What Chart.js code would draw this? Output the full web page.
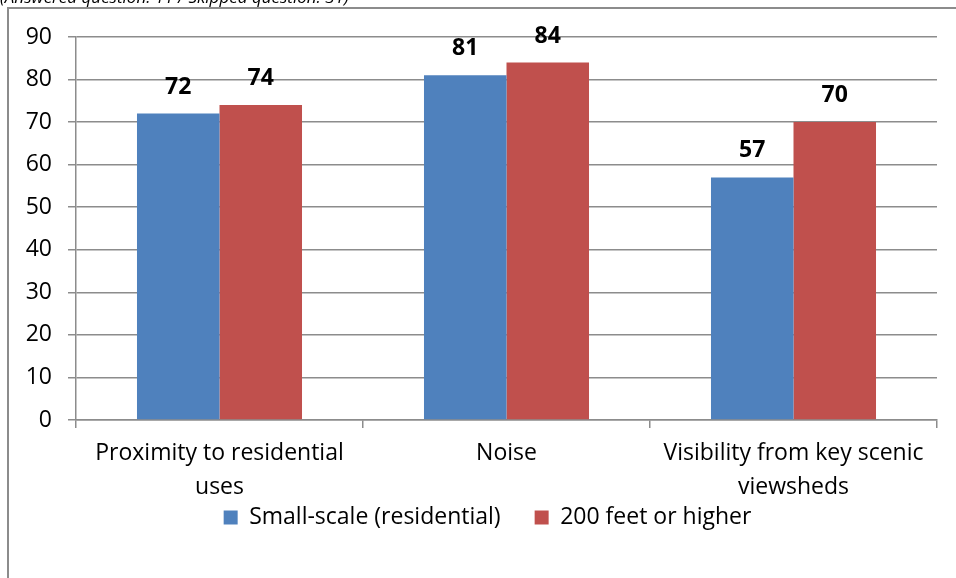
<!DOCTYPE html>
<html>
<head>
<meta charset="utf-8">
<script src="https://cdn.jsdelivr.net/npm/chart.js@4/dist/chart.umd.min.js"></script>
<style>
  body { margin: 0; background: #fff; overflow: hidden; }
  #wrap { position: relative; width: 956px; height: 578px; overflow: hidden; }
  #frame { position: absolute; left: 7px; top: 7px; width: 1000px; height: 1000px;
           border-left: 2px solid #8c8c8c; border-top: 2px solid #8c8c8c; box-sizing: border-box; }
  #note { position: absolute; left: 0; top: -11px; font: italic 17px "Open Sans", sans-serif;
          line-height: 16px; color: #000; white-space: nowrap; z-index: 2; }
  canvas { position: absolute; left: 0; top: 0; }
</style>
</head>
<body>
<div id="wrap">
  <div id="frame"></div>
  <div id="note">(Answered question: 11 / Skipped question: 31)</div>
  <canvas id="chart" width="956" height="578"></canvas>
</div>
<script>
// chart data
const categories = [['Proximity to residential', 'uses'], 'Noise', ['Visibility from key scenic', 'viewsheds']];
const smallScale = [72, 81, 57];
const tall = [74, 84, 70];
const yTicks = [0, 10, 20, 30, 40, 50, 60, 70, 80, 90];

const gridColor = '#8c8c8c';
const fontFamily = '"Open Sans", sans-serif';
const fontSize = 23;

// draws the bold numbers above each bar
const valueLabels = {
    id: 'valueLabels',
    afterDatasetsDraw(chart) {
        const ctx = chart.ctx;
        ctx.save();
        ctx.font = 'bold 23px ' + fontFamily;
        ctx.fillStyle = '#000';
        ctx.textAlign = 'center';
        ctx.textBaseline = 'bottom';
        chart.data.datasets.forEach((ds, i) => {
            chart.getDatasetMeta(i).data.forEach((bar, j) => {
                ctx.fillText(ds.data[j], bar.x, bar.y - 15);
            });
        });
        ctx.restore();
    }
};

// the legend sits closer to the axis labels than its padding would allow
const legendMove = {
    id: 'legendMove',
    afterLayout(chart) {
        const lg = chart.legend;
        const h = lg.bottom - lg.top;
        lg.top = 472;
        lg.bottom = 472 + h;
        lg.left += 19;
        lg.right += 19;
    }
};

new Chart(document.getElementById('chart'), {
    type: 'bar',
    data: {
        labels: categories,
        datasets: [
            { label: 'Small-scale (residential)', data: smallScale, backgroundColor: '#4F81BD' },
            { label: '200 feet or higher', data: tall, backgroundColor: '#C0504D' }
        ]
    },
    options: {
        responsive: false,
        animation: false,
        layout: { padding: { top: 37, right: 19, left: 0, bottom: 0 } },
        datasets: { bar: { categoryPercentage: 0.575, barPercentage: 1 } },
        scales: {
            x: {
                afterFit: (s) => { s.height = 91; },
                border: { color: gridColor, width: 1.5 },
                grid: { drawOnChartArea: false, color: gridColor, lineWidth: 1.5, tickLength: 8, offset: true },
                ticks: { color: '#000', padding: 8, font: { family: fontFamily, size: fontSize, lineHeight: 1.5 } }
            },
            y: {
                min: 0,
                max: 90,
                afterFit: (s) => { s.width = 76; },
                afterBuildTicks: (s) => { s.ticks = yTicks.map(v => ({ value: v })); },
                border: { color: gridColor, width: 1.5 },
                grid: { color: gridColor, lineWidth: 1.5, tickLength: 8 },
                ticks: { color: '#000', padding: 16, font: { family: fontFamily, size: fontSize } }
            }
        },
        plugins: {
            legend: {
                position: 'bottom',
                labels: { color: '#000', boxWidth: 14, boxHeight: 14, padding: 34,
                          font: { family: fontFamily, size: fontSize } }
            },
            tooltip: { enabled: false }
        }
    },
    plugins: [valueLabels, legendMove]
});
</script>
</body>
</html>
